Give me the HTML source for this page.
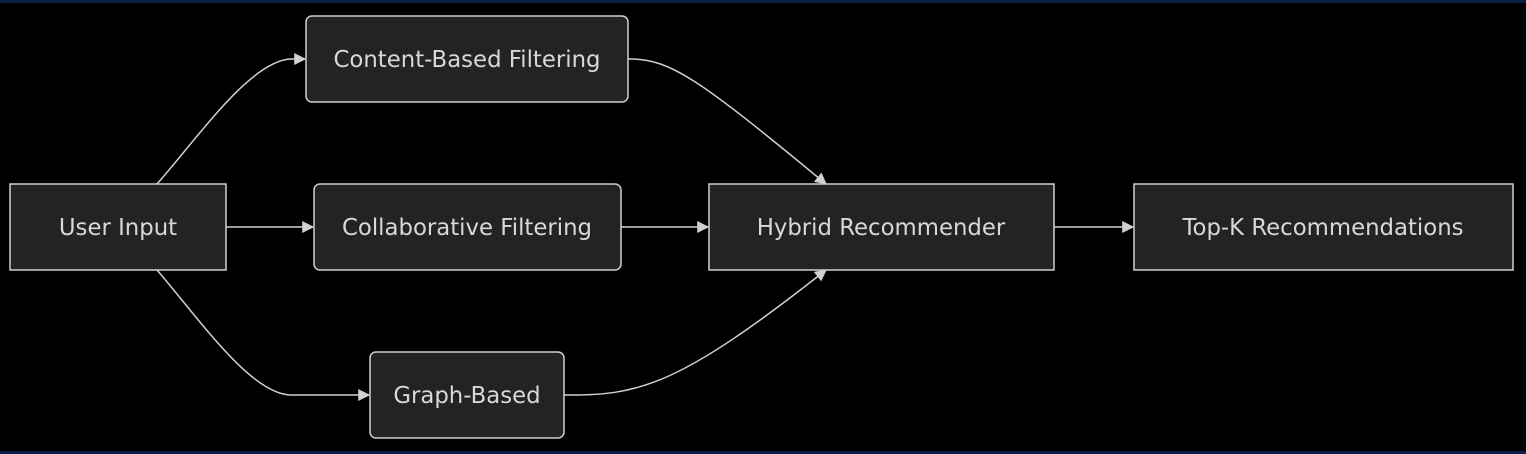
<!DOCTYPE html>
<html><head><meta charset="utf-8"><style>
html,body{margin:0;padding:0;background:#000;}
svg{display:block;}
text{font-family:"DejaVu Sans","Liberation Sans",sans-serif;font-size:22.8px;fill:#d8d8d8;text-anchor:middle;dominant-baseline:central;}
</style></head><body>
<svg width="1526" height="454" viewBox="0 0 1526 454">
<rect x="0" y="0" width="1526" height="454" fill="#000"/>
<rect x="0" y="0" width="1526" height="3" fill="#0c1f48"/>
<rect x="0" y="451" width="1526" height="3" fill="#0c1f48"/>
<defs><marker id="a" viewBox="0 0 10 10" refX="9" refY="5" markerWidth="12" markerHeight="12" markerUnits="userSpaceOnUse" orient="auto"><path d="M0,0L10,5L0,10z" fill="#d0d0d0"/></marker></defs>
<g fill="none" stroke="#d0d0d0" stroke-width="1.5">
<path d="M157,184 C200,135 250,62 290,59 L305,59" marker-end="url(#a)"/>
<path d="M226,227 L313,227" marker-end="url(#a)"/>
<path d="M157,270 C200,320 250,393 290,395 L369,395" marker-end="url(#a)"/>
<path d="M628,59 C670,58 700,80 826,184" marker-end="url(#a)"/>
<path d="M621,227 L708,227" marker-end="url(#a)"/>
<path d="M564,395 C640,396 680,385 826,270" marker-end="url(#a)"/>
<path d="M1054,227 L1133,227" marker-end="url(#a)"/>
</g>
<g fill="#222423" stroke="#cfcfcf" stroke-width="1.5">
<rect x="10" y="184" width="216" height="86"/>
<rect x="306" y="16" width="322" height="86" rx="6"/>
<rect x="314" y="184" width="307" height="86" rx="6"/>
<rect x="370" y="352" width="194" height="86" rx="6"/>
<rect x="709" y="184" width="345" height="86"/>
<rect x="1134" y="184" width="379" height="86"/>
</g>
<text x="118" y="228">User Input</text>
<text x="467" y="60">Content-Based Filtering</text>
<text x="467" y="228">Collaborative Filtering</text>
<text x="467" y="396">Graph-Based</text>
<text x="881" y="228">Hybrid Recommender</text>
<text x="1323" y="228">Top-K Recommendations</text>
</svg>
</body></html>
